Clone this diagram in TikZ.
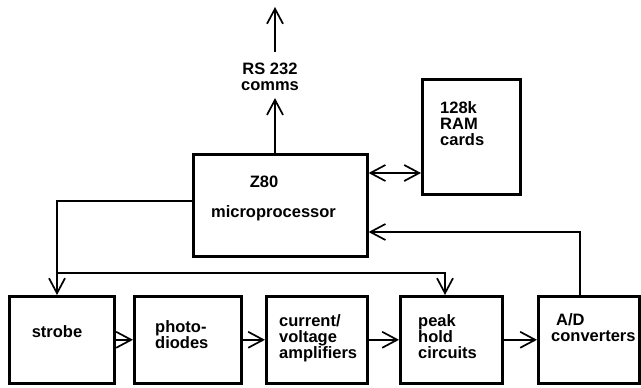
\documentclass[tikz,border=0pt]{standalone}
\usepackage{fontspec}
\setmainfont{Liberation Sans}
\usetikzlibrary{arrows.meta}

\begin{document}
\begin{tikzpicture}[x=1pt, y=-1pt,
  >={Straight Barb[length=15pt,width=16pt]},
  blk/.style={draw, line width=2.6pt, anchor=north west, inner sep=0pt},
  txt/.style={font=\bfseries\fontsize{16.5}{16}\selectfont, inner sep=0pt, align=left},
  wire/.style={line width=1.7pt, ->}]
  \useasboundingbox (0,0) rectangle (641,388);

  % 上方：Z80 与 RAM
  \node[blk, minimum width=174pt, minimum height=102pt] (z80) at (192,153) {};
  \node[blk, minimum width=98pt, minimum height=115pt]  (ram) at (421,78) {};

  % 下方一排方框
  \node[blk, minimum width=105pt, minimum height=87pt] (strobe) at (8,295) {};
  \node[blk, minimum width=107pt, minimum height=87pt] (photo)  at (133,295) {};
  \node[blk, minimum width=101pt, minimum height=87pt] (amp)    at (265,295) {};
  \node[blk, minimum width=102pt, minimum height=87pt] (peak)   at (399,295) {};
  \node[blk, minimum width=101pt, minimum height=87pt] (adc)    at (537,295) {};

  % 文字
  \node[txt, anchor=base] (z80a) at (264,187) {Z80};
  \node[txt, anchor=base] (z80b) at (273.5,217) {microprocessor};
  \node[txt, anchor=north, align=center] (rs) at (270,63) {RS 232\\comms};
  \node[txt, anchor=north west] (ramtxt)    at (440,101) {128k\\RAM\\cards};
  \node[txt, anchor=base]       (strobetxt) at (57,337) {strobe};
  \node[txt, anchor=north west] (phototxt)  at (155,320) {photo-\\diodes};
  \node[txt, anchor=north west] (amptxt)    at (279,314.5) {current/\\voltage\\amplifiers};
  \node[txt, anchor=north west] (peaktxt)   at (418,314.5) {peak\\hold\\circuits};
  \node[txt, anchor=north west] (adctxt)    at (551,313.5) {\kern5pt A/D\\converters};

  % 连线
  \coordinate (rsend) at (275,7);
  \draw[wire] (z80.north -| rsend) -- ([yshift=-7pt]rs.south -| rsend);
  \draw[wire] ([yshift=11pt]rs.north -| rsend) -- (rsend);

  \coordinate (bus) at (395,173);
  \draw[wire, <->] (z80.east |- bus) -- (ram.west |- bus);

  \coordinate (fb) at (580,232);
  \draw[wire] (adc.north -| fb) -- (fb) -- (z80.east |- fb);

  \coordinate (tap) at (57,201);
  \coordinate (split) at (57,273);
  \coordinate (pk) at (445,273);
  \draw[wire] (z80.west |- tap) -- (tap) -- (strobe.north -| tap);
  \draw[wire] (split) -- (pk) -- (peak.north -| pk);

  \foreach \a/\b in {strobe/photo, photo/amp, amp/peak, peak/adc}
    \draw[wire] (\a) -- (\b);
\end{tikzpicture}
\end{document}
